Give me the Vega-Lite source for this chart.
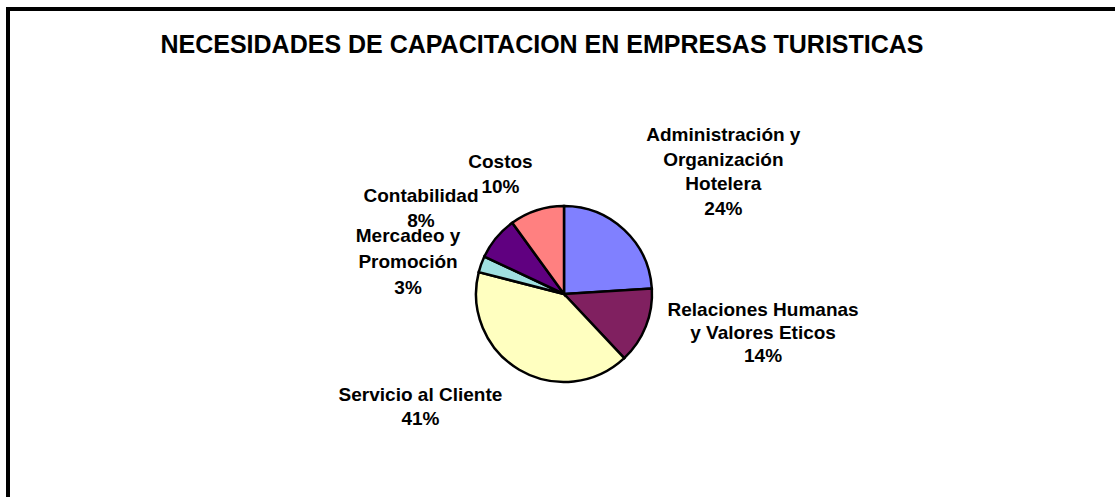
{
  "$schema": "https://vega.github.io/schema/vega-lite/v6.json",
  "autosize": "none",
  "padding": {"left": 8, "top": 9, "right": 0, "bottom": 0},
  "width": 1112,
  "height": 570,
  "background": "white",
  "view": {"stroke": "black", "strokeWidth": 4, "fill": "white"},
  "config": {"view": {"stroke": "black", "strokeWidth": 4}, "font": "Liberation Sans"},
  "title": {
    "text": "NECESIDADES DE CAPACITACION EN EMPRESAS TURISTICAS",
    "font": "Liberation Sans",
    "fontSize": 25,
    "fontWeight": "bold",
    "color": "black",
    "anchor": "middle",
    "frame": "group",
    "offset": -69,
    "baseline": "alphabetic",
    "dx": -22
  },
  "data": {
    "values": [
      {"categoria": "Administración y Organización Hotelera", "etiqueta": "Administración y\nOrganización\nHotelera\n24%", "porcentaje": 24, "orden": 1},
      {"categoria": "Relaciones Humanas y Valores Eticos", "etiqueta": "Relaciones Humanas\ny Valores Eticos\n14%", "porcentaje": 14, "orden": 2},
      {"categoria": "Servicio al Cliente", "etiqueta": "Servicio al Cliente\n41%", "porcentaje": 41, "orden": 3},
      {"categoria": "Mercadeo y Promoción", "etiqueta": "Mercadeo y\nPromoción\n3%", "porcentaje": 3, "orden": 4},
      {"categoria": "Contabilidad", "etiqueta": "Contabilidad\n8%", "porcentaje": 8, "orden": 5},
      {"categoria": "Costos", "etiqueta": "Costos\n10%", "porcentaje": 10, "orden": 6}
    ]
  },
  "transform": [
    {"stack": "porcentaje", "groupby": [], "sort": [{"field": "orden"}], "as": ["inicio", "fin"]},
    {"calculate": "(datum.inicio + datum.fin) / 2", "as": "medio"}
  ],
  "layer": [
    {
      "mark": {"type": "arc", "outerRadius": 88, "stroke": "black", "strokeWidth": 2.5},
      "encoding": {
        "theta": {"field": "inicio", "type": "quantitative", "stack": null, "scale": {"domain": [0, 100]}},
        "theta2": {"field": "fin"},
        "color": {
          "field": "categoria",
          "type": "nominal",
          "scale": {
            "domain": ["Administración y Organización Hotelera", "Relaciones Humanas y Valores Eticos", "Servicio al Cliente", "Mercadeo y Promoción", "Contabilidad", "Costos"],
            "range": ["#8080FF", "#802060", "#FFFFC0", "#A0E0E0", "#600080", "#FF8080"]
          },
          "legend": null
        }
      }
    },
    {
      "transform": [{"filter": "datum.orden == 1"}],
      "mark": {"type": "text", "dx": 43, "dy": -35, "fontSize": 19, "fontWeight": "bold", "font": "Liberation Sans", "lineBreak": "\n", "lineHeight": 24.5, "align": "center", "baseline": "middle", "color": "black"},
      "encoding": {"theta": {"field": "medio", "type": "quantitative", "stack": null, "scale": {"domain": [0, 100]}}, "radius": {"value": 170}, "text": {"field": "etiqueta"}}
    },
    {
      "transform": [{"filter": "datum.orden == 2"}],
      "mark": {"type": "text", "dx": 41, "dy": -47, "fontSize": 19, "fontWeight": "bold", "font": "Liberation Sans", "lineBreak": "\n", "lineHeight": 23, "align": "center", "baseline": "middle", "color": "black"},
      "encoding": {"theta": {"field": "medio", "type": "quantitative", "stack": null, "scale": {"domain": [0, 100]}}, "radius": {"value": 170}, "text": {"field": "etiqueta"}}
    },
    {
      "transform": [{"filter": "datum.orden == 3"}],
      "mark": {"type": "text", "dx": -57, "dy": -45, "fontSize": 19, "fontWeight": "bold", "font": "Liberation Sans", "lineBreak": "\n", "lineHeight": 24, "align": "center", "baseline": "middle", "color": "black"},
      "encoding": {"theta": {"field": "medio", "type": "quantitative", "stack": null, "scale": {"domain": [0, 100]}}, "radius": {"value": 170}, "text": {"field": "etiqueta"}}
    },
    {
      "transform": [{"filter": "datum.orden == 4"}],
      "mark": {"type": "text", "dx": 4, "dy": 0, "fontSize": 19, "fontWeight": "bold", "font": "Liberation Sans", "lineBreak": "\n", "lineHeight": 26, "align": "center", "baseline": "middle", "color": "black"},
      "encoding": {"theta": {"field": "medio", "type": "quantitative", "stack": null, "scale": {"domain": [0, 100]}}, "radius": {"value": 170}, "text": {"field": "etiqueta"}}
    },
    {
      "transform": [{"filter": "datum.orden == 5"}],
      "mark": {"type": "text", "dx": -12, "dy": 10, "fontSize": 19, "fontWeight": "bold", "font": "Liberation Sans", "lineBreak": "\n", "lineHeight": 25, "align": "center", "baseline": "middle", "color": "black"},
      "encoding": {"theta": {"field": "medio", "type": "quantitative", "stack": null, "scale": {"domain": [0, 100]}}, "radius": {"value": 170}, "text": {"field": "etiqueta"}}
    },
    {
      "transform": [{"filter": "datum.orden == 6"}],
      "mark": {"type": "text", "dx": -11, "dy": 30, "fontSize": 19, "fontWeight": "bold", "font": "Liberation Sans", "lineBreak": "\n", "lineHeight": 25, "align": "center", "baseline": "middle", "color": "black"},
      "encoding": {"theta": {"field": "medio", "type": "quantitative", "stack": null, "scale": {"domain": [0, 100]}}, "radius": {"value": 170}, "text": {"field": "etiqueta"}}
    }
  ]
}
